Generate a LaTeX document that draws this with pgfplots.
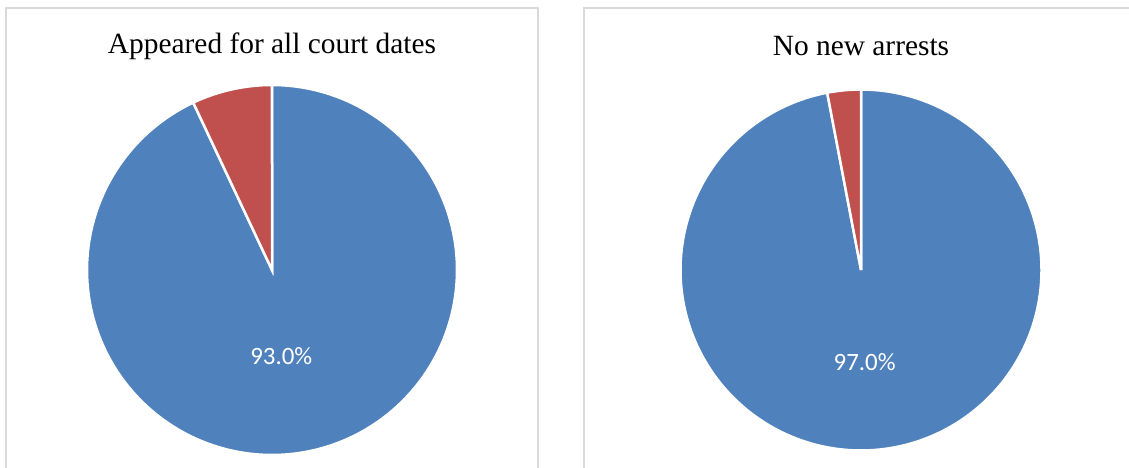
\documentclass[border=0pt]{standalone}
\usepackage{pgfplots}
\pgfplotsset{compat=1.18}
\usepackage{fontspec}
\setmainfont{Liberation Serif}
\newfontfamily\lblfont{Carlito}
\definecolor{pieblue}{HTML}{4F81BD}
\definecolor{piered}{HTML}{C0504D}
\definecolor{frame}{HTML}{D9D9D9}

% slice values (percent)
\def\appeared{93.0}
\def\noarrest{97.0}

\pgfplotsset{
  pieaxis/.style={
    hide axis, scale only axis, axis equal image,
    xmin=-1, xmax=1, ymin=-1, ymax=1,
    clip=false, anchor=center,
  },
  slice/.style={draw=white, line width=2.5bp, samples=240, variable=\t},
}

\begin{document}
\begin{tikzpicture}[x=1bp, y=-1bp]
  \useasboundingbox (0,0) rectangle (1129,468);
  \begin{scope}
    \clip (0,0) rectangle (1129,468);
    \draw[frame, line width=1.6bp] (6,8) rectangle (538,500);
    \draw[frame, line width=1.6bp] (584,8) rectangle (1160,500);
  \end{scope}

  \node[font=\fontsize{29.5}{34}\selectfont] at (272,46) {Appeared for all court dates};
  \node[font=\fontsize{29.5}{34}\selectfont] at (861,46) {No new arrests};

  \pgfmathsetmacro\endA{90-3.6*\appeared}
  \begin{axis}[pieaxis, width=370bp, height=370bp, at={(272bp,-270bp)}]
    \addplot[slice, fill=pieblue, domain=90:\endA] ({cos(\t)},{sin(\t)}) -- (axis cs:0,0) -- cycle;
    \addplot[slice, fill=piered, domain=\endA:-270] ({cos(\t)},{sin(\t)}) -- (axis cs:0,0) -- cycle;
    \node[text=white, font=\lblfont\fontsize{25}{30}\selectfont] at (axis cs:0.05,-0.465) {93.0\%};
  \end{axis}

  \pgfmathsetmacro\endB{90-3.6*\noarrest}
  \begin{axis}[pieaxis, width=361bp, height=361bp, at={(861bp,-270bp)}]
    \addplot[slice, fill=pieblue, domain=90:\endB] ({cos(\t)},{sin(\t)}) -- (axis cs:0,0) -- cycle;
    \addplot[slice, fill=piered, domain=\endB:-270] ({cos(\t)},{sin(\t)}) -- (axis cs:0,0) -- cycle;
    \node[text=white, font=\lblfont\fontsize{25}{30}\selectfont] at (axis cs:0.02,-0.51) {97.0\%};
  \end{axis}
\end{tikzpicture}
\end{document}
